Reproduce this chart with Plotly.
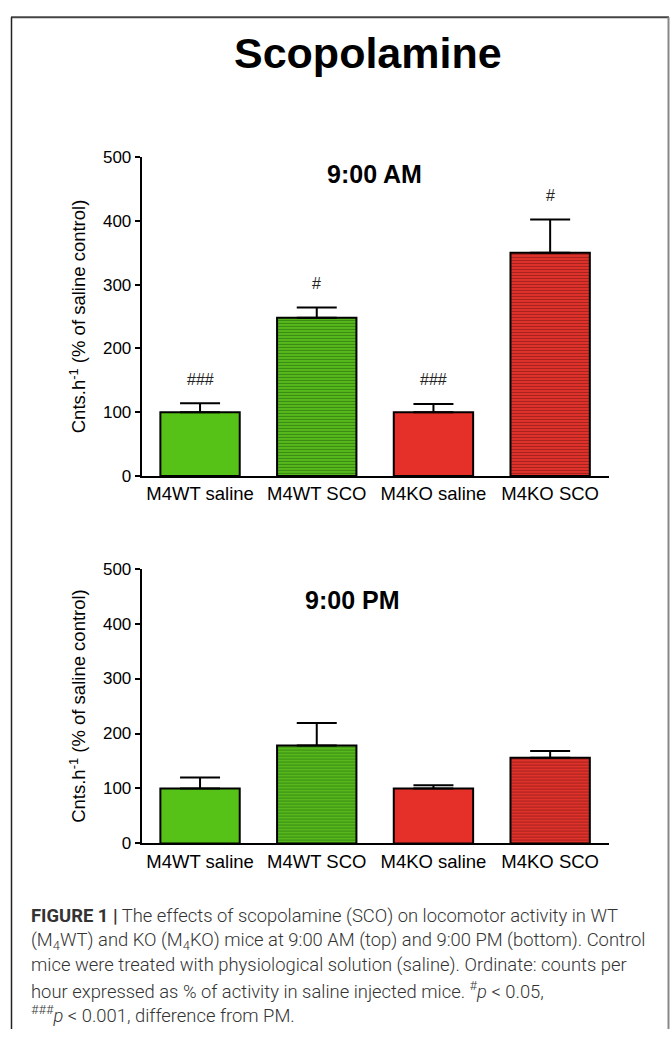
import plotly.graph_objects as go

# ---------------- data ----------------
categories = ["M4WT saline", "M4WT SCO", "M4KO saline", "M4KO SCO"]
am_values = [100, 248, 100, 350]
am_errors = [14, 16, 13, 52]
am_marks = ["###", "#", "###", "#"]
pm_values = [100, 178, 100, 156]
pm_errors = [20, 41, 6, 12]
pm_marks = ["", "", "", ""]
y_ticks = [0, 100, 200, 300, 400, 500]

# ---------------- styles ----------------
W, H = 670, 1039
fill_colors = ["#56c116", "#5cc21e", "#e5302a", "#ec352d"]
pattern_shapes = ["", "-", "", "-"]
pattern_fg = ["#56c116", "#3a8a12", "#e5302a", "#a3221d"]
FONT = "Liberation Sans, Arial, sans-serif"


def px_x(p):
    return p / W


def px_y(p):
    return 1 - p / H


fig = go.Figure()

for vals, errs, xa, ya in [(am_values, am_errors, "x", "y"), (pm_values, pm_errors, "x2", "y2")]:
    for i, cat in enumerate(categories):
        marker = dict(color=fill_colors[i], line=dict(color="black", width=2))
        if pattern_shapes[i]:
            marker["pattern"] = dict(shape=pattern_shapes[i], fgcolor=pattern_fg[i], fgopacity=1,
                                     size=3, solidity=0.45, fillmode="overlay")
        fig.add_trace(go.Bar(
            x=[cat], y=[vals[i]], xaxis=xa, yaxis=ya, width=0.68,
            marker=marker,
            error_y=dict(type="data", array=[errs[i]], arrayminus=[0], symmetric=False,
                         color="black", thickness=2, width=20),
            showlegend=False,
        ))

ax_common = dict(showline=True, linecolor="black", linewidth=2, showgrid=False, zeroline=False)
ytick_font = dict(family=FONT, size=17, color="black")
xtick_font = dict(family=FONT, size=18.5, color="black")

xdom = [px_x(141.7), px_x(608.5)]
top_dom = [px_y(475.7), px_y(150.7)]
bot_dom = [px_y(850), px_y(570)]

ytitle = dict(text="Cnts.h<sup>-1</sup> (% of saline control)",
              font=dict(family=FONT, size=18.5, color="black"), standoff=12)

fig.update_layout(
    width=W, height=H,
    margin=dict(l=0, r=0, t=0, b=0),
    paper_bgcolor="white", plot_bgcolor="white",
    barmode="overlay",
    xaxis=dict(domain=xdom, anchor="y", range=[-0.5, 3.5], ticks="", type="category",
               categoryorder="array", categoryarray=categories,
               tickfont=xtick_font, **ax_common),
    yaxis=dict(domain=top_dom, anchor="x", range=[0, 500], tickvals=y_ticks, ticks="outside",
               ticklen=5, tickwidth=2, tickcolor="black", title=ytitle, tickfont=ytick_font,
               **ax_common),
    xaxis2=dict(domain=xdom, anchor="y2", range=[-0.5, 3.5], ticks="", type="category",
                categoryorder="array", categoryarray=categories,
                tickfont=xtick_font, **ax_common),
    yaxis2=dict(domain=bot_dom, anchor="x2", range=[0, 500], tickvals=y_ticks, ticks="outside",
                ticklen=5, tickwidth=2, tickcolor="black", title=ytitle, tickfont=ytick_font,
                **ax_common),
)

annotations = []
# significance marks
for vals, errs, marks, xa, ya in [(am_values, am_errors, am_marks, "x", "y"),
                                  (pm_values, pm_errors, pm_marks, "x2", "y2")]:
    for c, v, e, m in zip(categories, vals, errs, marks):
        if m:
            annotations.append(dict(x=c, y=v + e, xref=xa, yref=ya, text=m, showarrow=False,
                                    yanchor="middle", yshift=24,
                                    font=dict(family=FONT, size=16, color="#222")))

# panel titles
annotations.append(dict(x=px_x(375), y=px_y(168), xref="paper", yref="paper", text="<b>9:00 AM</b>",
                        showarrow=False, xanchor="center", yanchor="middle",
                        font=dict(family=FONT, size=25, color="black")))
annotations.append(dict(x=px_x(352), y=px_y(602), xref="paper", yref="paper", text="<b>9:00 PM</b>",
                        showarrow=False, xanchor="center", yanchor="middle",
                        font=dict(family=FONT, size=25, color="black")))
annotations.append(dict(x=px_x(368), y=px_y(45), xref="paper", yref="paper", text="<b>Scopolamine</b>",
                        showarrow=False, xanchor="center", yanchor="middle",
                        font=dict(family=FONT, size=43, color="black")))

caption_lines = [
    "<b>FIGURE 1 |</b> The effects of scopolamine (SCO) on locomotor activity in WT",
    "(M<sub>4</sub>WT) and KO (M<sub>4</sub>KO) mice at 9:00 AM (top) and 9:00 PM (bottom). Control",
    "mice were treated with physiological solution (saline). Ordinate: counts per",
    "hour expressed as % of activity in saline injected mice. <sup>#</sup><i>p</i> &lt; 0.05,",
    "<sup>###</sup><i>p</i> &lt; 0.001, difference from PM.",
]
for i, line in enumerate(caption_lines):
    annotations.append(dict(x=px_x(29), y=px_y(924 + 25 * i), xref="paper", yref="paper", text=line,
                            showarrow=False, xanchor="left", yanchor="middle",
                            font=dict(family="Roboto, sans-serif", size=18.4, color="#333",
                                      weight=300)))

fig.update_layout(annotations=annotations)

# outer frame
shapes = [
    dict(type="line", xref="paper", yref="paper", x0=px_x(11), x1=px_x(669), y0=px_y(8.5), y1=px_y(8.5),
         line=dict(color="#444", width=2)),
    dict(type="line", xref="paper", yref="paper", x0=px_x(11.5), x1=px_x(11.5), y0=0, y1=px_y(8.5),
         line=dict(color="#222", width=1.5)),
    dict(type="line", xref="paper", yref="paper", x0=px_x(668.5), x1=px_x(668.5), y0=0, y1=px_y(8.5),
         line=dict(color="#888", width=2)),
]
fig.update_layout(shapes=shapes)

fig.write_html("out.html")
